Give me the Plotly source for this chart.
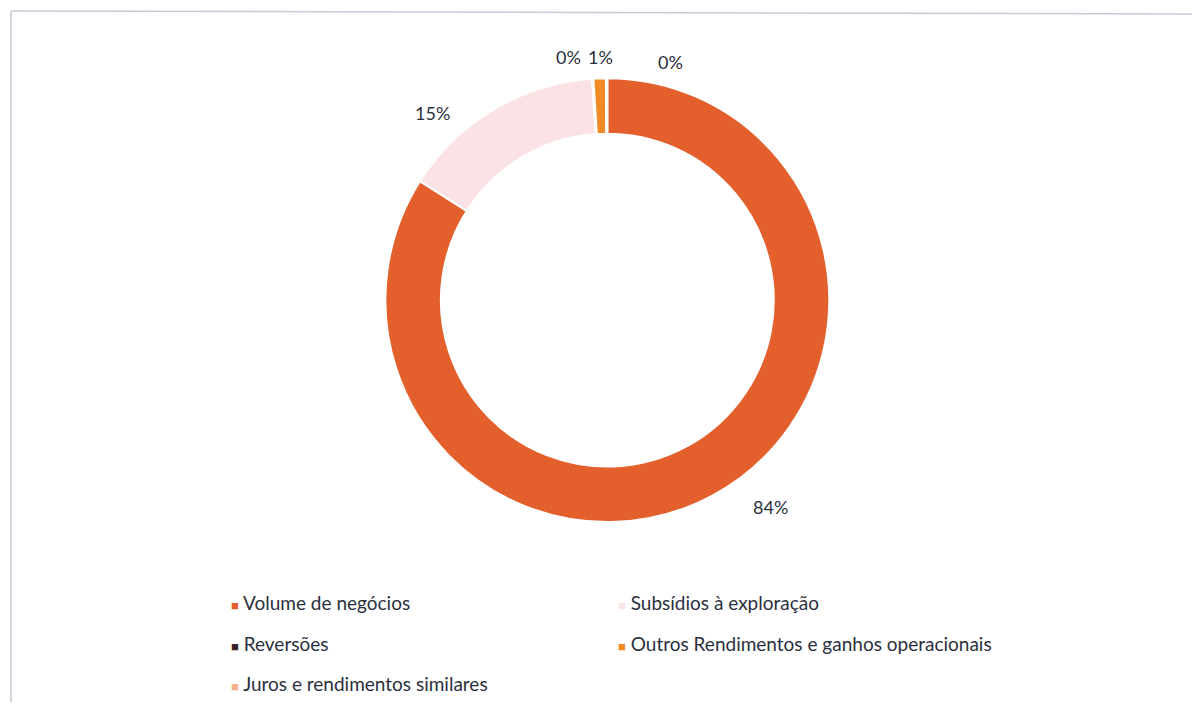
import plotly.graph_objects as go

# Income breakdown
labels = [
    "Volume de negócios",
    "Subsídios à exploração",
    "Reversões",
    "Outros Rendimentos e ganhos operacionais",
    "Juros e rendimentos similares",
]
values = [84.0, 14.9, 0.1, 0.9, 0.1]
colors = ["#E3602C", "#FBE3E5", "#3A2126", "#F28A26", "#F4B189"]

W, H = 1192, 704
TEXT = "#2B2F3E"
FONT = "Lato"

fig = go.Figure()
fig.add_trace(go.Pie(
    labels=labels,
    values=values,
    hole=0.75,
    sort=False,
    direction="clockwise",
    rotation=0,
    marker=dict(colors=colors, line=dict(color="white", width=2)),
    textinfo="none",
    showlegend=False,
    domain=dict(x=[0.323, 0.696], y=[0.2585, 0.889]),
))

# Percentage labels placed around the ring (pixel anchors)
label_pos = [(770, 507), (432, 113), (568, 57), (600, 57), (670, 62)]
total = sum(values)
annotations = []
for v, (px, py) in zip(values, label_pos):
    annotations.append(dict(
        x=px / W, y=1 - py / H, xref="paper", yref="paper",
        xanchor="center", yanchor="middle", showarrow=False,
        text=f"{round(v / total * 100)}%",
        font=dict(family=FONT, size=18, color=TEXT),
    ))

# Legend laid out in two columns, three rows
leg_x = [229, 616]
leg_y = [602, 643, 683]
for i, (lab, col) in enumerate(zip(labels, colors)):
    cx = leg_x[i % 2]
    cy = leg_y[i // 2]
    annotations.append(dict(
        x=cx / W, y=1 - cy / H, xref="paper", yref="paper",
        xanchor="left", yanchor="middle", showarrow=False,
        text=f"<span style='color:{col};font-size:13px'>■</span> {lab}",
        font=dict(family=FONT, size=19, color=TEXT),
    ))

# Frame around the chart area
frame = dict(color="#C9CAD8", width=1.5)
shapes = [
    dict(type="line", xref="paper", yref="paper", x0=11 / W, x1=1, y0=1 - 11 / H, y1=1 - 14 / H, line=frame),
    dict(type="line", xref="paper", yref="paper", x0=11 / W, x1=11 / W, y0=1 - 11 / H, y1=1 - 702 / H, line=frame),
]

fig.update_layout(
    width=W, height=H,
    margin=dict(l=0, r=0, t=0, b=0),
    paper_bgcolor="white",
    plot_bgcolor="white",
    annotations=annotations,
    shapes=shapes,
)

fig.write_html("out.html", include_plotlyjs=True, config={"displayModeBar": False})
